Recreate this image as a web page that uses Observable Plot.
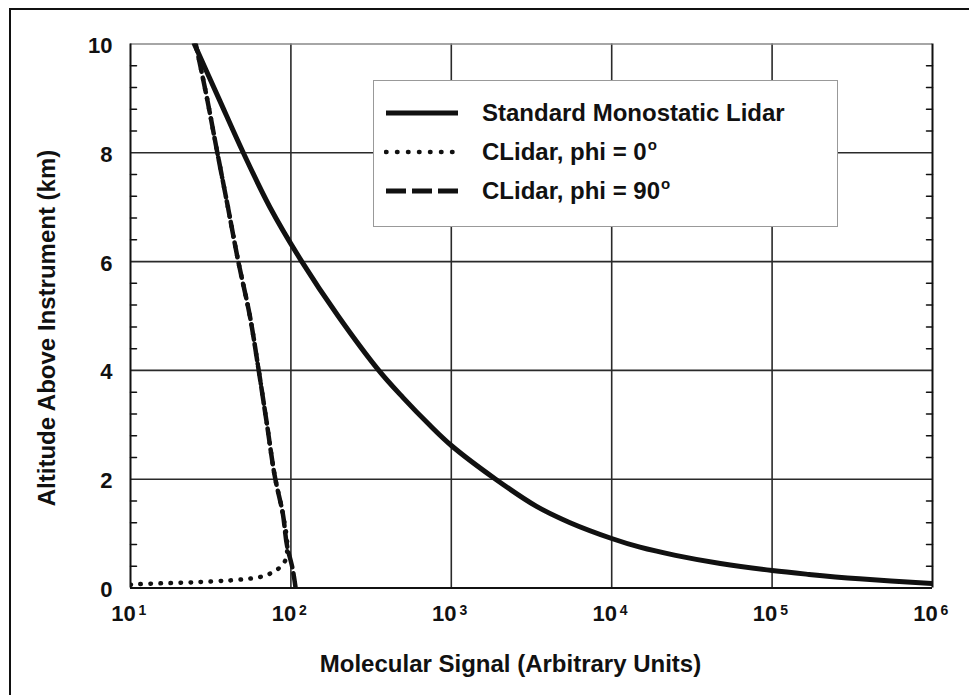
<!DOCTYPE html>
<html>
<head>
<meta charset="utf-8">
<script src="https://cdn.jsdelivr.net/npm/d3@7"></script>
<script src="https://cdn.jsdelivr.net/npm/@observablehq/plot@0.6"></script>
<style>
  body { margin: 0; background: #fff; font-family: "Liberation Sans", Arial, sans-serif; }
  #fig { position: relative; width: 969px; height: 695px; overflow: hidden; background: #fff; }
  #fig svg.chart { position: absolute; left: 0; top: 0; }
  #border { position: absolute; left: 9px; top: 8px; width: 990px; height: 720px; border: 2px solid #111; box-sizing: border-box; }
  #legend { position: absolute; left: 373px; top: 80px; width: 465px; height: 147px; box-sizing: border-box;
            border: 1.5px solid #999; background: #fff; }
  #legend .row { position: absolute; left: 0; height: 30px; width: 100%; }
  #legend .row svg { position: absolute; left: 10px; top: 10px; }
  #legend .row span.t { position: absolute; left: 108px; top: 0; font-size: 24px; font-weight: bold; color: #111; line-height: 30px; white-space: nowrap; }
  #legend .deg { font-size: 15px; position: relative; top: -10px; margin-left: 1px; }
</style>
</head>
<body>
<div id="fig">
  <div id="border"></div>
</div>
<script>
// Standard monostatic lidar molecular return
const monoAltitude = [0.08, 0.17, 0.25, 0.32, 0.45, 0.6, 0.75, 0.91, 1.2, 1.5, 2, 2.62, 3, 3.5, 4, 5, 6, 7, 8, 9, 10];
const monoSignal   = [1e6, 3.5e5, 1.7e5, 1e5, 4.76e4, 2.5e4, 1.5e4, 1e4, 5500, 3400, 1890, 1000, 730, 500, 353, 197, 117, 74, 50.5, 35.5, 25];

// CLidar, phi = 90 deg
const cl90Altitude = [0, 0.38, 0.75, 1.37, 2, 3, 4, 5, 6, 7, 8, 9, 10];
const cl90Signal   = [107, 102, 95, 89, 80, 71, 63, 55.5, 47, 40.5, 34.8, 30, 25.5];

// CLidar, phi = 0 deg (rises along the ground, then joins the phi = 90 curve)
const cl0Altitude = [0.06, 0.08, 0.09, 0.11, 0.14, 0.18, 0.27, 0.36, 0.45, 0.6, 0.75, 1.37, 2, 3, 4, 5, 6, 7, 8, 9, 10];
const cl0Signal   = [10, 13.3, 17.8, 27, 42, 58, 75, 84, 90, 94, 95, 89, 80, 71, 63, 55.5, 47, 40.5, 34.8, 30, 25.5];

// Axes
const xTicks = [1e1, 1e2, 1e3, 1e4, 1e5, 1e6];
const xExponents = ["1", "2", "3", "4", "5", "6"];
const yTicks = [0, 2, 4, 6, 8, 10];
const yMinor = [0.4, 0.8, 1.2, 1.6, 2.4, 2.8, 3.2, 3.6, 4.4, 4.8, 5.2, 5.6, 6.4, 6.8, 7.2, 7.6, 8.4, 8.8, 9.2, 9.6];

const xLabel = "Molecular Signal (Arbitrary Units)";
const yLabel = "Altitude Above Instrument (km)";
const legendLabels = ["Standard Monostatic Lidar", "CLidar, phi = 0", "CLidar, phi = 90"];

const toRows = (alt, sig) => alt.map((a, i) => ({alt: a, signal: sig[i]}));
const mono = toRows(monoAltitude, monoSignal);
const cl90 = toRows(cl90Altitude, cl90Signal);
const cl0 = toRows(cl0Altitude, cl0Signal);

const font = "'Liberation Sans', Arial, sans-serif";
const ink = "#111";

// short inward tick drawn upward, then rotated into place
const tickShape = { draw(ctx, l) { ctx.moveTo(0, 0); ctx.lineTo(0, -l); } };

const chart = Plot.plot({
  width: 969,
  height: 695,
  marginLeft: 130,
  marginRight: 37,
  marginTop: 43.5,
  marginBottom: 107.5,
  className: "chart",
  style: { fontFamily: font, background: "transparent", overflow: "visible" },
  x: { type: "log", domain: [10, 1e6], axis: null },
  y: { domain: [0, 10], axis: null },
  marks: [
    // grid
    Plot.ruleX(xTicks.slice(1, -1), { stroke: "#2a2a2a", strokeWidth: 1.6 }),
    Plot.ruleY(yTicks.slice(1, -1), { stroke: "#2a2a2a", strokeWidth: 1.6 }),
    // frame edges
    Plot.ruleY([10], { stroke: "#888", strokeWidth: 1.6 }),
    Plot.ruleY([0], { stroke: ink, strokeWidth: 2 }),
    Plot.ruleX([10, 1e6], { stroke: ink, strokeWidth: 2 }),
    // minor altitude ticks on both vertical edges
    Plot.vector(yMinor, { x: 10, y: d => d, length: 6, rotate: 90, anchor: "start", shape: tickShape, stroke: ink, strokeWidth: 1.5 }),
    Plot.vector(yMinor, { x: 1e6, y: d => d, length: 6, rotate: -90, anchor: "start", shape: tickShape, stroke: ink, strokeWidth: 1.5 }),
    // curves
    Plot.line(cl0, { x: "signal", y: "alt", curve: "monotone-y", stroke: ink, strokeWidth: 4.5,
      strokeDasharray: "0.5,9.5", strokeLinecap: "round", clip: true }),
    Plot.line(cl90, { x: "signal", y: "alt", curve: "monotone-y", stroke: ink, strokeWidth: 4.5,
      strokeDasharray: "15,6", clip: true }),
    Plot.line(mono, { x: "signal", y: "alt", curve: "catmull-rom", stroke: ink, strokeWidth: 5, clip: true }),
    // x tick labels: 10 with superscript exponent
    Plot.text(xTicks, { x: d => d, frameAnchor: "bottom", text: () => "10", dx: -7, dy: 33,
      fontSize: 22, fontWeight: "bold", fill: ink }),
    Plot.text(xTicks, { x: d => d, frameAnchor: "bottom", text: (d, i) => xExponents[i], dx: 12, dy: 27,
      fontSize: 14, fontWeight: "bold", fill: ink }),
    // y tick labels
    Plot.text(yTicks, { y: d => d, frameAnchor: "left", text: d => String(d), textAnchor: "end", dx: -18, dy: 2,
      fontSize: 22, fontWeight: "bold", fill: ink }),
    // axis titles
    Plot.text([xLabel], { frameAnchor: "bottom", text: d => d, dx: -21, dy: 84,
      fontSize: 24, fontWeight: "bold", fill: ink }),
    Plot.text([yLabel], { frameAnchor: "left", text: d => d, rotate: -90, textAnchor: "middle", dx: -83, dy: 12,
      fontSize: 24, fontWeight: "bold", fill: ink })
  ]
});

const fig = document.getElementById("fig");
fig.appendChild(chart);

// legend box inside the plot area
const legend = document.createElement("div");
legend.id = "legend";
const styles = [
  { dash: null, width: 5, cap: "butt" },
  { dash: "0.5,10.5", width: 4.5, cap: "round" },
  { dash: "20,6", width: 5, cap: "butt" }
];
const rowTops = [17, 56, 95];
legendLabels.forEach((label, i) => {
  const row = document.createElement("div");
  row.className = "row";
  row.style.top = rowTops[i] + "px";
  const s = styles[i];
  row.innerHTML =
    `<svg width="76" height="10"><line x1="2" x2="74" y1="5" y2="5" stroke="${ink}" stroke-width="${s.width}"` +
    (s.dash ? ` stroke-dasharray="${s.dash}"` : "") + ` stroke-linecap="${s.cap}"/></svg>` +
    `<span class="t">${label}${i > 0 ? '<span class="deg">o</span>' : ""}</span>`;
  legend.appendChild(row);
});
fig.appendChild(legend);
</script>
</body>
</html>
